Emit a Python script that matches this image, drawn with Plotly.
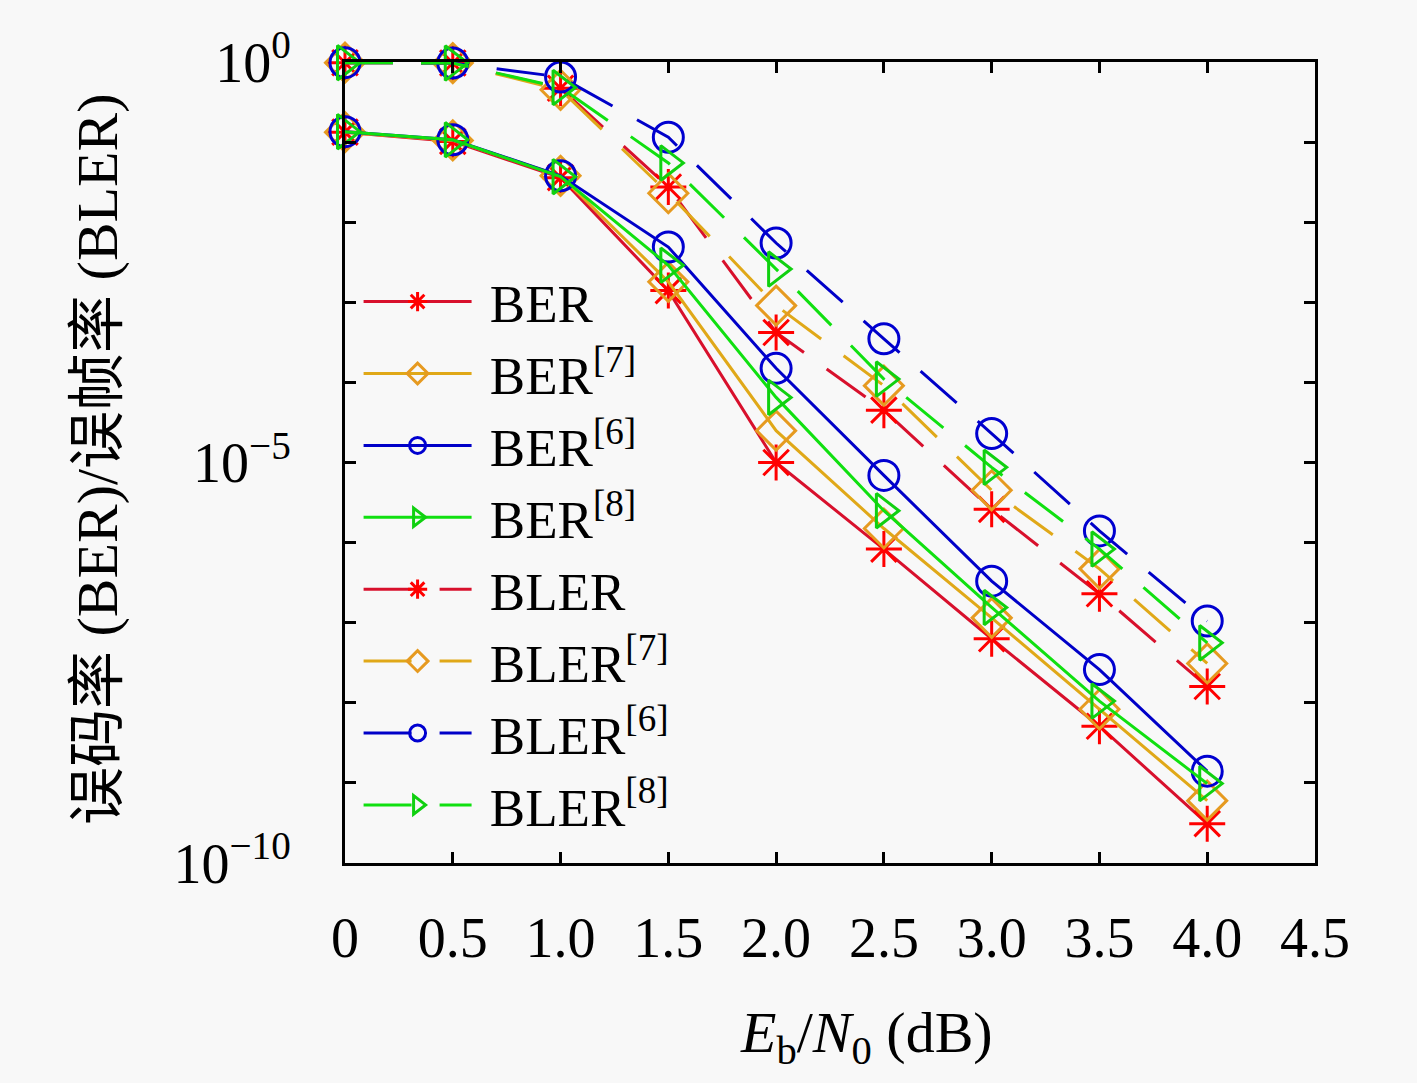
import plotly.graph_objects as go

# Eb/N0 (dB)
ebn0 = [0, 0.5, 1.0, 1.5, 2.0, 2.5, 3.0, 3.5, 4.0]

# bit error rate
ber = [0.133, 0.102, 0.036, 1.4e-3, 1.0e-5, 8.3e-7, 6.3e-8, 5.1e-9, 3.1e-10]
ber_7 = [0.133, 0.105, 0.038, 1.8e-3, 2.5e-5, 1.5e-6, 1.15e-7, 8.3e-9, 6.0e-10]
ber_6 = [0.135, 0.107, 0.038, 4.9e-3, 1.5e-4, 6.9e-6, 3.3e-7, 2.6e-8, 1.4e-9]
ber_8 = [0.135, 0.107, 0.037, 2.9e-3, 6.5e-5, 2.5e-6, 1.55e-7, 1.05e-8, 9.8e-10]

# block error rate
bler = [0.98, 0.97, 0.47, 2.75e-2, 4.2e-4, 4.5e-5, 2.6e-6, 2.3e-7, 1.6e-8]
bler_7 = [0.98, 0.97, 0.45, 2.3e-2, 9.1e-4, 9.1e-5, 4.5e-6, 4.7e-7, 3.1e-8]
bler_6 = [0.98, 0.97, 0.65, 0.115, 5.5e-3, 3.5e-4, 2.3e-5, 1.4e-6, 1.05e-7]
bler_8 = [0.98, 0.97, 0.48, 5.5e-2, 2.6e-3, 1.1e-4, 8.7e-6, 8.3e-7, 5.6e-8]

names = ["BER", "BER<sup>[7]</sup>", "BER<sup>[6]</sup>", "BER<sup>[8]</sup>",
         "BLER", "BLER<sup>[7]</sup>", "BLER<sup>[6]</sup>", "BLER<sup>[8]</sup>"]

x_ticks = [0, 0.5, 1.0, 1.5, 2.0, 2.5, 3.0, 3.5, 4.0, 4.5]
x_ticktext = ["0", "0.5", "1.0", "1.5", "2.0", "2.5", "3.0", "3.5", "4.0", "4.5"]
y_ticks = [10.0 ** -k for k in range(0, 11)]
y_ticktext = ["10<sup>0</sup>", "", "", "", "", "10<sup>\u22125</sup>",
              "", "", "", "", "10<sup>\u221210</sup>"]

SERIF = "Liberation Serif, Noto Sans CJK SC, serif"
BG = "#f8f8f8"

# style per scheme: (line colour, marker colour, symbol, size)
styles = [
    ("#d8102c", "#ff0000", "asterisk-open", 30),
    ("#e0a818", "#e69a20", "diamond-open", 30),
    ("#0000c8", "#0000d0", "circle-open", 30),
    ("#10e010", "#10d010", "triangle-right-open", 30),
]

series = [ber, ber_7, ber_6, ber_8, bler, bler_7, bler_6, bler_8]

fig = go.Figure()
for i, (ys, name) in enumerate(zip(series, names)):
    lc, mc, sym, sz = styles[i % 4]
    dashed = i >= 4
    fig.add_trace(go.Scatter(
        x=ebn0, y=ys, name="\u00a0" + name, mode="lines+markers",
        line=dict(color=lc, width=3, dash="48px,28px" if dashed else "solid"),
        marker=dict(symbol=sym, size=sz, color=mc, line=dict(color=mc, width=3)),
        cliponaxis=False,
    ))

fig.update_layout(
    width=1417, height=1083,
    paper_bgcolor=BG, plot_bgcolor=BG,
    margin=dict(l=345, r=102, t=62, b=220),
    font=dict(family=SERIF, color="black"),
    showlegend=True,
    legend=dict(
        x=0.014, y=0.752, xanchor="left", yanchor="top",
        bgcolor="rgba(0,0,0,0)", font=dict(size=53, family=SERIF),
        itemwidth=108, tracegroupgap=0,
    ),
    annotations=[
        dict(text="<i>E</i><sub>b</sub>/<i>N</i><sub>0</sub> (dB)",
             xref="paper", yref="paper", x=0.538, y=-0.217,
             xanchor="center", yanchor="middle", showarrow=False,
             font=dict(size=58, family=SERIF)),
        dict(text="误码率 (BER)/误帧率 (BLER)",
             xref="paper", yref="paper", x=-0.255, y=0.504, textangle=-90,
             xanchor="center", yanchor="middle", showarrow=False,
             font=dict(size=58, family=SERIF)),
    ],
)

fig.update_xaxes(
    range=[0, 4.5], tickvals=x_ticks, ticktext=x_ticktext,
    ticks="inside", ticklen=11, tickwidth=3, tickcolor="black",
    showline=True, linecolor="black", linewidth=3, mirror="ticks",
    showgrid=False, zeroline=False,
    tickfont=dict(size=56, family=SERIF), ticklabelstandoff=24,
)
fig.update_yaxes(
    type="log", range=[-10, 0], tickvals=y_ticks, ticktext=y_ticktext,
    ticks="inside", ticklen=11, tickwidth=3, tickcolor="black",
    showline=True, linecolor="black", linewidth=3, mirror="ticks",
    showgrid=False, zeroline=False,
    tickfont=dict(size=56, family=SERIF), ticklabelstandoff=40,
)

# page without the default body margin, same grey as the figure
page_js = ("document.body.style.margin='0';"
           "document.body.style.overflow='hidden';"
           "document.body.style.background='" + BG + "';")

fig.write_html("out.html", post_script=page_js,
               config={"displayModeBar": False})
